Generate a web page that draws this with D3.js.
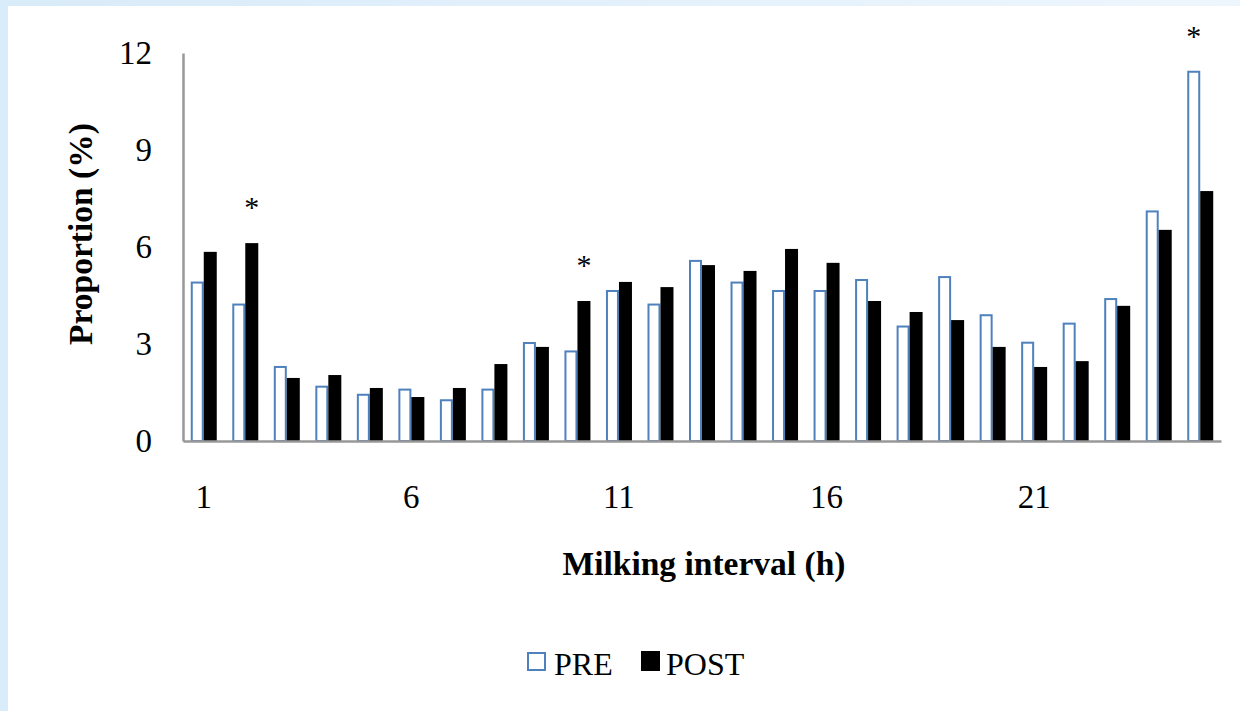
<!DOCTYPE html>
<html>
<head>
<meta charset="utf-8">
<script src="https://cdn.jsdelivr.net/npm/d3@7"></script>
<style>
  html, body { margin: 0; padding: 0; background: #fff; }
  svg { display: block; }
  text { font-family: "Liberation Serif", "Times New Roman", serif; fill: #000; }
</style>
</head>
<body>
<svg id="chart" width="1240" height="711"></svg>
<script>
// Milking interval categories (h)
const intervals = d3.range(1, 26).map(String);
// Proportion of milkings (%) per interval, before and after
const preValues  = [4.90, 4.22, 2.29, 1.68, 1.43, 1.59, 1.26, 1.59, 3.03, 2.77,
                    4.64, 4.22, 5.57, 4.90, 4.64, 4.64, 4.98, 3.54, 5.07, 3.89,
                    3.04, 3.63, 4.39, 7.10, 11.42];
const postValues = [5.85, 6.12, 1.95, 2.04, 1.64, 1.36, 1.64, 2.38, 2.91, 4.33,
                    4.92, 4.76, 5.44, 5.26, 5.94, 5.51, 4.33, 3.99, 3.74, 2.91,
                    2.29, 2.47, 4.18, 6.53, 7.73];
// Intervals with a significant difference
const significant = ["2", "10", "25"];
const xTickLabels = ["1", "6", "11", "16", "21"];
const yTicks = [0, 3, 6, 9, 12];
const seriesNames = ["PRE", "POST"];

const svg = d3.select("#chart");

// light blue frame along the top and left edges
const defs = svg.append("defs");
const grad = defs.append("linearGradient").attr("id", "frameGrad")
  .attr("x1", 0).attr("x2", 1).attr("y1", 0).attr("y2", 0);
grad.append("stop").attr("offset", "0%").attr("stop-color", "#d8ebf9");
grad.append("stop").attr("offset", "100%").attr("stop-color", "#eef6fd");
svg.append("rect").attr("x", 0).attr("y", 0).attr("width", 1240).attr("height", 6).attr("fill", "url(#frameGrad)");
svg.append("rect").attr("x", 0).attr("y", 0).attr("width", 8).attr("height", 711).attr("fill", "#d9ecf9");

const plotLeft = 183, plotRight = 1221, plotTop = 53, plotBottom = 441;

const x0 = d3.scaleBand().domain(intervals).range([plotLeft, plotRight])
  .paddingInner(0.374).paddingOuter(0.187);
const x1 = d3.scaleBand().domain(seriesNames).range([0, x0.bandwidth()]);
const y = d3.scaleLinear().domain([0, 12]).range([plotBottom, plotTop]);

const rows = intervals.map((k, i) => ({ k, PRE: preValues[i], POST: postValues[i] }));

// bars
const groups = svg.append("g").selectAll("g").data(rows).join("g")
  .attr("transform", d => `translate(${x0(d.k)},0)`);

groups.append("rect")
  .attr("x", x1("PRE") + 1)
  .attr("y", d => y(d.PRE))
  .attr("width", x1.bandwidth() - 2)
  .attr("height", d => y(0) - y(d.PRE))
  .attr("fill", "#fff")
  .attr("stroke", "#4f81bd")
  .attr("stroke-width", 2);

groups.append("rect")
  .attr("x", x1("POST"))
  .attr("y", d => y(d.POST))
  .attr("width", x1.bandwidth())
  .attr("height", d => y(0) - y(d.POST))
  .attr("fill", "#000");

// significance markers above the taller bar
groups.filter(d => significant.includes(d.k)).append("text")
  .attr("x", d => (d.PRE >= d.POST ? x1("PRE") : x1("POST")) + x1.bandwidth() / 2)
  .attr("y", d => y(Math.max(d.PRE, d.POST)) - 26)
  .attr("text-anchor", "middle")
  .attr("font-size", 30)
  .text("*");

// axes
const yAxis = d3.axisLeft(y).tickValues(yTicks).tickSize(0).tickPadding(31);
const gy = svg.append("g").attr("transform", `translate(${plotLeft},0)`).call(yAxis);
gy.select(".domain").attr("stroke", "#989898").attr("stroke-width", 2.5);
gy.selectAll("text").attr("font-size", 33).attr("font-family", "Liberation Serif").attr("fill", "#000");

const xAxis = d3.axisBottom(x0).tickValues(xTickLabels).tickSize(0).tickPadding(44)
  .tickFormat(d => d);
const gx = svg.append("g").attr("transform", `translate(0,${plotBottom})`).call(xAxis);
gx.select(".domain").attr("stroke", "#989898").attr("stroke-width", 2.5);
gx.selectAll("text").attr("font-size", 33).attr("font-family", "Liberation Serif").attr("fill", "#000");

// axis titles
svg.append("text")
  .attr("x", 704).attr("y", 575)
  .attr("text-anchor", "middle")
  .attr("font-size", 33.5).attr("font-weight", "bold")
  .text("Milking interval (h)");

svg.append("text")
  .attr("transform", "translate(92,234) rotate(-90)")
  .attr("text-anchor", "middle")
  .attr("font-size", 33.5).attr("font-weight", "bold")
  .text("Proportion (%)");

// legend
const legend = svg.append("g");
legend.append("rect").attr("x", 528).attr("y", 653).attr("width", 17).attr("height", 17)
  .attr("fill", "#fff").attr("stroke", "#4f81bd").attr("stroke-width", 2);
legend.append("text").attr("x", 554).attr("y", 675).attr("font-size", 32).text(seriesNames[0]);
legend.append("rect").attr("x", 641).attr("y", 651).attr("width", 19).attr("height", 20)
  .attr("fill", "#000");
legend.append("text").attr("x", 666).attr("y", 675).attr("font-size", 32).text(seriesNames[1]);
</script>
</body>
</html>
